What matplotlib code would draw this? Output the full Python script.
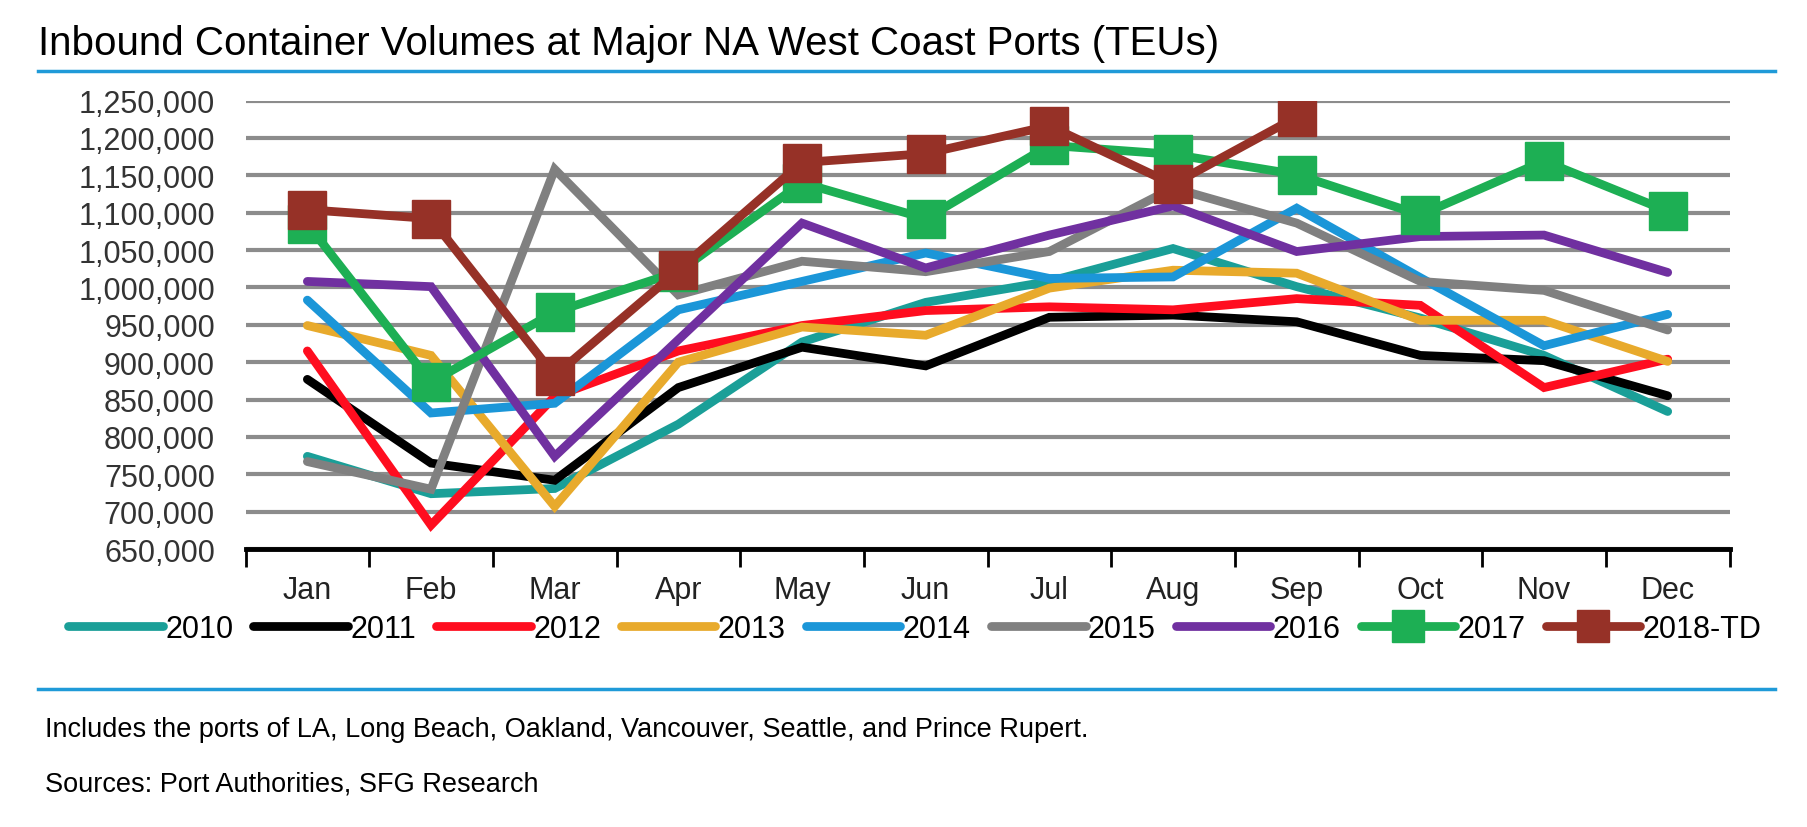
import matplotlib
matplotlib.use("Agg")
import matplotlib.pyplot as plt
from matplotlib.lines import Line2D
from matplotlib.ticker import FuncFormatter, FixedLocator, NullFormatter
import numpy as np

plt.rcParams['font.family'] = ['Liberation Sans', 'DejaVu Sans']

months = ['Jan', 'Feb', 'Mar', 'Apr', 'May', 'Jun', 'Jul', 'Aug', 'Sep', 'Oct', 'Nov', 'Dec']

v2010 = [774000, 724000, 731000, 817000, 927000, 980000, 1008000, 1052000, 1001000, 959000, 909000, 834000]
v2011 = [877000, 765000, 742000, 866000, 920000, 895000, 960000, 963000, 954000, 909000, 902000, 855000]
v2012 = [915000, 682000, 854000, 915000, 949000, 969000, 974000, 970000, 985000, 976000, 866000, 904000]
v2013 = [949000, 909000, 707000, 900000, 947000, 936000, 999000, 1023000, 1019000, 956000, 956000, 901000]
v2014 = [983000, 832000, 845000, 970000, 1008000, 1046000, 1012000, 1014000, 1106000, 1013000, 922000, 964000]
v2015 = [767000, 730000, 1158000, 990000, 1035000, 1021000, 1048000, 1133000, 1086000, 1008000, 996000, 943000]
v2016 = [1008000, 1001000, 774000, 930000, 1086000, 1026000, 1070000, 1109000, 1048000, 1068000, 1070000, 1020000]
v2017 = [1085000, 873000, 967000, 1021000, 1140000, 1092000, 1190000, 1178000, 1151000, 1097000, 1169000, 1102000]
v2018 = [1104000, 1092000, 882000, 1023000, 1167000, 1179000, 1216000, 1138000, 1228000]

series = [
    ('2010', v2010, '#1a9f98', None),
    ('2011', v2011, '#000000', None),
    ('2012', v2012, '#ff0d1f', None),
    ('2013', v2013, '#e8aa2c', None),
    ('2014', v2014, '#1b96d8', None),
    ('2015', v2015, '#808080', None),
    ('2016', v2016, '#7030a0', None),
    ('2017', v2017, '#1daf54', 's'),
    ('2018-TD', v2018, '#963127', 's'),
]

fig = plt.figure(figsize=(18.08, 8.28), dpi=100)
ax = fig.add_axes([0.1358, 0.3357, 0.8208, 0.5417])

x = np.arange(len(months))
for name, vals, color, marker in series:
    ax.plot(x[:len(vals)], vals, color=color, lw=6.3, marker=marker,
            markersize=27, solid_joinstyle='miter', solid_capstyle='round', label=name)

ax.set_xlim(-0.5, len(months) - 0.5)
ax.set_ylim(650000, 1250000)
ax.set_yticks(np.arange(650000, 1250001, 50000))
ax.yaxis.set_major_formatter(FuncFormatter(lambda v, p: f'{int(v):,}'))
ax.grid(axis='y', color='#8c8c8c', lw=3.0, zorder=0)
ax.set_axisbelow(True)

ax.xaxis.set_major_locator(FixedLocator(np.arange(-0.5, len(months), 1)))
ax.xaxis.set_major_formatter(NullFormatter())
ax.xaxis.set_minor_locator(FixedLocator(x))
ax.set_xticklabels(months, minor=True)
ax.tick_params(axis='x', which='major', length=13, width=2, color='black', direction='out')
ax.tick_params(axis='x', which='minor', length=0, pad=19, labelsize=22, labelcolor='#222222')
ax.tick_params(axis='y', length=0, labelsize=22, labelcolor='#333333', pad=22)

for s in ['left', 'right', 'top']:
    ax.spines[s].set_visible(False)
ax.spines['bottom'].set_linewidth(3.5)
ax.spines['bottom'].set_color('black')

fig.legend(loc='center', bbox_to_anchor=(0.506, 0.239), ncol=9, frameon=False,
           fontsize=22, handlelength=3.1, handletextpad=0.08, columnspacing=0.65,
           markerscale=0.85, borderaxespad=0)

fig.text(0.021, 0.947, 'Inbound Container Volumes at Major NA West Coast Ports (TEUs)',
         fontsize=29, va='center', ha='left')
fig.text(0.025, 0.118, 'Includes the ports of LA, Long Beach, Oakland, Vancouver, Seattle, and Prince Rupert.',
         fontsize=19.5, va='center', ha='left')
fig.text(0.025, 0.053, 'Sources: Port Authorities, SFG Research',
         fontsize=19.5, va='center', ha='left')

for yy in [0.9136, 0.1667]:
    fig.add_artist(Line2D([0.021, 0.982], [yy, yy], transform=fig.transFigure,
                          color='#1f9ad8', lw=2.5))

fig.savefig('out.png', dpi=100)
